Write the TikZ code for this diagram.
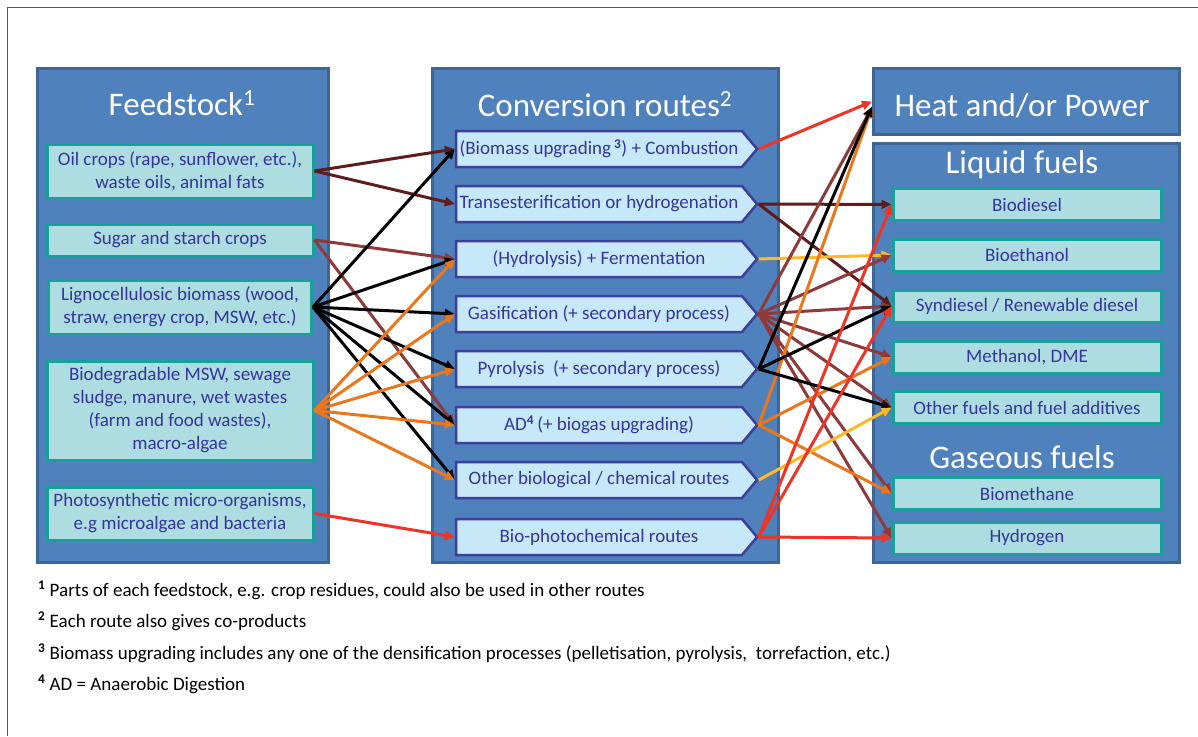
\documentclass[tikz,border=0pt]{standalone}
\usepackage{fontspec}
\setmainfont{Carlito}
\usetikzlibrary{shapes.symbols,arrows.meta}
\definecolor{panelfill}{HTML}{4F81BD}
\definecolor{paneledge}{HTML}{3D6697}
\definecolor{feedfill}{HTML}{ADDDE0}
\definecolor{feededge}{HTML}{1AA09A}
\definecolor{routefill}{HTML}{C6E8F9}
\definecolor{routeedge}{HTML}{3E3E9B}
\definecolor{txt}{HTML}{35359A}
\definecolor{cdark}{HTML}{5F1C1C}
\definecolor{cbrown}{HTML}{8E3A3A}
\definecolor{corange}{HTML}{E8771E}
\definecolor{cyellow}{HTML}{FDB927}
\definecolor{cred}{HTML}{EE3426}
\definecolor{framecol}{HTML}{555555}
\begin{document}
\begin{tikzpicture}[x=1pt,y=-1pt,
  panel/.style={rectangle,fill=panelfill,draw=paneledge,line width=3pt,anchor=north west,inner sep=0pt},
  feed/.style={rectangle,fill=feedfill,draw=feededge,line width=3pt,text=txt,
    font=\fontsize{19}{23}\selectfont,align=center,inner sep=0pt,minimum width=266pt},
  outbox/.style={feed,minimum width=268pt,minimum height=32pt},
  route/.style={signal,signal to=east,signal pointer angle=100,fill=routefill,draw=routeedge,
    line width=2.5pt,text=txt,font=\fontsize{19}{23}\selectfont,minimum height=36pt,
    minimum width=301pt,inner sep=0pt},
  title/.style={text=white,font=\fontsize{33}{40}\selectfont,inner sep=0pt,anchor=base},
  conn/.style={line width=3pt,-{Triangle[length=10pt,width=9pt]}},
  note/.style={anchor=base west,font=\fontsize{19}{23}\selectfont,inner sep=0pt}
]
\useasboundingbox (0,0) rectangle (1198,736);
\draw[framecol,line width=1pt] (7,736) -- (7,7) -- (1198,7);

% panels
\node[panel,minimum width=291pt,minimum height=494pt] (fsp) at (36,67) {};
\node[panel,minimum width=346pt,minimum height=494pt] (cvp) at (431,67) {};
\node[panel,minimum width=306pt,minimum height=66pt] (heat) at (872,67) {};
\node[panel,minimum width=306pt,minimum height=419pt] (liq) at (872,142) {};

% titles
\node[title] (tfs) at (182,115) {Feedstock\textsuperscript{1}};
\node[title] (tcv) at (605,116) {Conversion routes\textsuperscript{2}};
\node[title] (tht) at (1022,116) {Heat and/or Power};
\node[title] (tlq) at (1022,173) {Liquid fuels};
\node[title] (tgs) at (1022,468) {Gaseous fuels};

% feedstocks
\node[feed,minimum height=54pt] (oil) at (180,171) {Oil crops (rape, sunflower, etc.),\\ waste oils, animal fats};
\node[feed,minimum height=32pt] (sugar) at (180,240) {Sugar and starch crops};
\node[feed,minimum height=54pt,minimum width=263pt] (ligno) at (180,307) {Lignocellulosic biomass (wood,\\ straw, energy crop, MSW, etc.)};
\node[feed,minimum height=99pt] (biod) at (180,410.5) {Biodegradable MSW, sewage\\ sludge, manure, wet wastes\\ (farm and food wastes),\\ macro-algae};
\node[feed,minimum height=53pt] (photo) at (180,513.5) {Photosynthetic micro-organisms,\\ e.g microalgae and bacteria};

% routes
\node[route] (r1) at (599,149) {(Biomass upgrading\,\textsuperscript{\bfseries 3}) + Combustion};
\node[route] (r2) at (599,204) {Transesterification or hydrogenation};
\node[route] (r3) at (599,259) {(Hydrolysis) + Fermentation};
\node[route] (r4) at (599,314) {Gasification (+ secondary process)};
\node[route] (r5) at (599,369) {Pyrolysis\ \ (+ secondary process)};
\node[route] (r6) at (599,425) {AD\textsuperscript{\bfseries 4}\,(+ biogas upgrading)};
\node[route] (r7) at (599,480) {Other biological / chemical routes};
\node[route] (r8) at (599,537) {Bio-photochemical routes};

% outputs
\node[outbox] (o1) at (1027,204.5) {Biodiesel};
\node[outbox] (o2) at (1027,255) {Bioethanol};
\node[outbox] (o3) at (1027,306) {Syndiesel / Renewable diesel};
\node[outbox] (o4) at (1027,357) {Methanol, DME};
\node[outbox] (o5) at (1027,407.5) {Other fuels and fuel additives};
\node[outbox] (o6) at (1027,493.5) {Biomethane};
\node[outbox] (o7) at (1027,538) {Hydrogen};

% left connectors
\draw[conn,cdark] (oil.east) -- (r1.west);
\draw[conn,cdark] (oil.east) -- (r2.west);
\draw[conn,cbrown] (sugar.east) -- (r3.west);
\draw[conn,cbrown] (sugar.east) -- (r6.west);
\foreach \r in {r1,r3,r4,r5,r6,r7} \draw[conn,black] (ligno.east) -- (\r.west);
\foreach \r in {r3,r4,r5,r6,r7} \draw[conn,corange] (biod.east) -- (\r.west);
\draw[conn,cred] (photo.east) -- (r8.west);

% right connectors
\draw[conn,cdark] (r2.east) -- (o1.west);
\draw[conn,cdark] (r2.east) -- (o3.west);
\draw[conn,cyellow] (r3.east) -- (o2.west);
\draw[conn,cbrown] (r4.east) -- ([yshift=-6pt]heat.west);
\foreach \o in {o2,o3,o4,o5,o6,o7} \draw[conn,cbrown] (r4.east) -- (\o.west);
\draw[conn,corange] (r6.east) -- ([yshift=-6pt]heat.west);
\draw[conn,corange] (r6.east) -- (o4.west);
\draw[conn,corange] (r6.east) -- (o6.west);
\draw[conn,black] (r5.east) -- ([yshift=-5pt]heat.west);
\draw[conn,black] (r5.east) -- (o3.west);
\draw[conn,black] (r5.east) -- (o5.west);
\draw[conn,cyellow] (r7.east) -- (o5.west);
\draw[conn,cred] (r8.east) -- (o1.west);
\draw[conn,cred] (r8.east) -- (o3.west);
\draw[conn,cred] (r8.east) -- (o7.west);
\draw[conn,cred] (r1.east) -- (heat.west);

% footnotes
\node[note] (n1) at (38,596) {\textsuperscript{\bfseries 1} Parts of each feedstock, e.g. crop residues, could also be used in other routes};
\node[note] (n2) at (38,627) {\textsuperscript{\bfseries 2} Each route also gives co-products};
\node[note] (n3) at (38,659) {\textsuperscript{\bfseries 3} Biomass upgrading includes any one of the densification processes (pelletisation, pyrolysis,\ \ torrefaction, etc.)};
\node[note] (n4) at (38,690) {\textsuperscript{\bfseries 4} AD = Anaerobic Digestion};
\end{tikzpicture}
\end{document}
